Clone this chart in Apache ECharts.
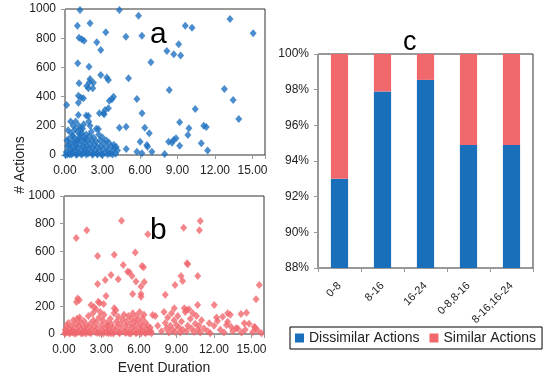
<!DOCTYPE html>
<html>
<head>
<meta charset="utf-8">
<script src="https://cdn.jsdelivr.net/npm/echarts@6/dist/echarts.min.js"></script>
<style>html,body{margin:0;padding:0;background:#fff}#c{width:550px;height:379px}</style>
</head>
<body>
<div id="c"></div>
<script>
// Panel a: Dissimilar actions (Event Duration, # Actions)
const pointsA = [
[1.2,993],[4.35,993],[5.88,953],[13.2,932],[0.99,886],[2.0,902],[3.26,840],[4.87,810],[6.15,817],[9.62,886],[10.16,872],[15.05,834],
[1.12,803],[1.34,792],[1.52,783],[2.54,772],[2.86,719],[8.15,712],[8.7,690],[9.09,758],[9.25,681],[6.87,635],[1.02,628],[1.92,605],
[2.86,548],[3.34,530],[3.47,514],[5.08,525],[2.0,521],[1.95,498],[1.12,491],[2.27,495],[2.22,457],[1.74,473],[1.87,457],[12.75,452],
[8.34,445],[5.75,384],[1.07,406],[1.28,392],[1.47,388],[1.07,358],[3.88,399],[3.75,381],[3.55,372],[13.45,377],[0.13,342],[6.16,286],
[10.42,315],[3.47,320],[3.21,308],[3.07,286],[2.75,286],[3.13,279],[1.07,274],[1.87,267],[13.9,247],[9.17,224],[4.35,187],[4.89,194],
[6.38,187],[11.1,201],[11.3,192],[9.91,183],[9.83,137],[2.67,178],[6.74,149],[6.01,91],[6.55,68],[6.6,57],[6.95,23],[5.75,23],[6.15,12],
[7.97,7],[8.29,91],[8.56,84],[8.69,103],[8.88,114],[9.17,64],[10.9,80],[11.41,30],[4.1,55],[4.9,41],[3.9,70],
[0.1,20],[0.2,60],[0.3,110],[0.35,5],[0.4,40],[0.5,150],[0.5,80],[0.6,10],[0.65,200],[0.7,55],[0.75,120],[0.8,30],[0.85,230],[0.9,90],
[0.95,5],[1.0,160],[1.0,45],[1.1,200],[1.1,15],[1.15,120],[1.2,70],[1.25,180],[1.3,30],[1.3,100],[1.35,150],[1.4,8],[1.45,60],[1.5,210],
[1.5,120],[1.55,40],[1.6,85],[1.65,20],[1.7,140],[1.7,270],[1.75,60],[1.8,100],[1.85,10],[1.9,230],[1.9,45],[1.95,130],[2.0,75],[2.05,20],
[2.1,160],[2.15,100],[2.2,50],[2.25,10],[2.3,120],[2.35,70],[2.4,30],[2.5,180],[2.5,90],[2.55,10],[2.6,55],[2.7,140],[2.75,25],[2.8,100],
[2.85,60],[2.9,5],[3.0,120],[3.05,40],[3.1,80],[3.2,15],[3.3,100],[3.35,55],[3.45,30],[3.5,85],[3.6,10],[3.7,60],[3.8,25],[3.95,50],
[4.05,8],[4.2,30],[0.15,100],[0.25,170],[0.45,230],[0.55,30],[0.7,90],[0.9,60],[1.05,100],[1.2,140],[1.4,180],[0.3,70],[0.6,130],
[0.8,175],[1.6,110],[2.0,200],[0.05,0],[0.2,5],[0.5,3],[0.9,2],[1.3,4],[1.7,3],[2.2,2],[2.6,4],[3.0,2],[3.4,5],[3.8,3]
];
// Panel b: Similar actions
const pointsB = [
[4.6,820],[10.9,818],[10.83,752],[9.57,770],[0.98,695],[1.82,752],[6.7,722],[2.69,565],[4.02,575],[5.7,590],[6.24,493],[6.36,483],
[9.84,512],[9.9,505],[4.74,500],[5.09,451],[5.22,450],[5.44,420],[3.76,428],[3.3,391],[4.34,396],[2.69,362],[10.7,420],[9.36,420],
[9.49,384],[5.76,380],[6.42,377],[6.16,345],[8.88,355],[15.62,355],[5.49,290],[6.16,290],[6.16,270],[8.1,285],[3.36,275],[15.36,251],
[1.09,258],[1.22,246],[1.0,232],[12.02,210],[10.69,210],[2.16,210],[2.4,195],[2.74,234],[2.85,225],[3.17,217],[4.02,186],[4.15,172],
[8.82,186],[9.62,186],[9.81,174],[13.09,150],[12.69,125],[14.16,145],[14.6,154],[7.09,138],[11.62,78],[12.28,94],[13.09,89],[13.36,53],
[13.76,41],[14.42,78],[15.22,53],
[0.05,5],[0.1,30],[0.2,60],[0.3,15],[0.35,80],[0.4,40],[0.5,10],[0.6,55],[0.7,25],[0.75,100],[0.8,5],[0.9,70],[1.0,35],[1.05,110],
[1.1,15],[1.2,60],[1.25,120],[1.3,85],[1.4,30],[1.5,5],[1.55,50],[1.6,95],[1.7,20],[1.8,65],[1.9,40],[1.95,130],[2.0,10],[2.1,75],
[2.2,30],[2.3,150],[2.35,100],[2.4,55],[2.5,15],[2.55,180],[2.6,85],[2.7,40],[2.8,120],[2.85,5],[2.9,160],[3.0,65],[3.05,25],[3.1,100],
[3.2,140],[3.3,45],[3.4,10],[3.45,80],[3.5,60],[3.6,30],[3.7,110],[3.75,5],[3.8,70],[3.9,40],[4.0,150],[4.1,20],[4.2,90],[4.25,55],
[4.35,125],[4.4,10],[4.5,75],[4.6,35],[4.7,105],[4.8,140],[4.85,15],[4.9,60],[5.0,90],[5.1,30],[5.15,130],[5.2,5],[5.3,70],[5.4,110],
[5.45,45],[5.5,150],[5.6,20],[5.65,90],[5.7,60],[5.8,130],[5.85,10],[5.9,100],[6.0,40],[6.05,160],[6.1,75],[6.2,25],[6.25,115],[6.3,55],
[6.4,140],[6.45,10],[6.5,85],[6.6,35],[6.7,60],[6.8,15],[6.9,45],[7.0,5],[7.3,130],[7.5,60],[7.8,20],[8.0,160],[8.1,80],[8.2,40],
[8.3,120],[8.4,10],[8.5,60],[8.6,150],[8.7,30],[8.8,100],[8.9,15],[9.0,65],[9.1,130],[9.2,45],[9.3,10],[9.4,90],[9.5,30],[9.7,160],
[9.8,20],[9.9,60],[10.0,180],[10.1,110],[10.2,40],[10.3,150],[10.4,15],[10.5,75],[10.6,130],[10.7,30],[10.8,60],[10.9,10],[11.0,100],
[11.2,40],[11.5,20],[11.7,5],[12.0,60],[12.2,120],[12.5,30],[12.8,10],[13.0,65],[13.3,140],[13.5,20],[13.9,40],[14.2,10],[14.5,30],
[14.8,75],[15.1,15],[15.3,45],[15.5,25],[15.8,5],[0.15,8],[0.45,3],[0.65,12],[0.95,4],[1.35,6],[1.75,3],[2.15,5],[2.65,8],[3.15,4],
[3.55,6],[3.95,3],[4.45,5],[4.95,8],[5.35,4],[5.75,6],[6.15,3],[6.55,5],[6.95,20]
];
// Panel c
const categories = ['0-8','8-16','16-24','0-8,8-16','8-16,16-24'];
const dissimilar = [93.0, 97.9, 98.55, 94.9, 94.9];
const similar = [7.0, 2.1, 1.45, 5.1, 5.1];
const yTicksScatter = [0, 200, 400, 600, 800, 1000];

const FONT = 'Liberation Sans';
const BLUE = '#1f72c0', PINK = '#f0686e';
const axisGray = '#999';

function scatterX(gi, showName) {
  return {
    type: 'value', gridIndex: gi, min: 0, max: 16, interval: 3,
    splitLine: {show: false},
    axisLine: {show: true, lineStyle: {color: axisGray}},
    axisTick: {show: true, length: 4, lineStyle: {color: axisGray}},
    axisLabel: {fontFamily: FONT, fontSize: 12, color: '#222', margin: 10,
      formatter: v => (v % 3 === 0 ? v.toFixed(2) : '')},
    name: showName ? 'Event Duration' : '', nameLocation: 'middle', nameGap: 27,
    nameTextStyle: {fontFamily: FONT, fontSize: 14, color: '#222'}
  };
}
function scatterY(gi) {
  return {
    type: 'value', gridIndex: gi, min: yTicksScatter[0], max: yTicksScatter[yTicksScatter.length-1], interval: 200,
    splitLine: {show: false},
    axisLine: {show: true, lineStyle: {color: axisGray}},
    axisTick: {show: true, length: 4, lineStyle: {color: axisGray}},
    axisLabel: {fontFamily: FONT, fontSize: 12, color: '#222', margin: 9, formatter: v => String(v)}
  };
}

const chart = echarts.init(document.getElementById('c'));
chart.setOption({
  animation: false,
  grid: [
    {left: 65, top: 9, width: 200, height: 146, show: true, borderColor: '#333', borderWidth: 1},
    {left: 64, top: 196, width: 200, height: 138, show: true, borderColor: '#333', borderWidth: 1},
    {left: 318, top: 54, width: 215, height: 214, show: true, borderColor: '#333', borderWidth: 1}
  ],
  xAxis: [
    scatterX(0, false),
    scatterX(1, true),
    {type: 'category', gridIndex: 2, data: categories,
     axisLine: {show: true, lineStyle: {color: axisGray}},
     axisTick: {show: true, length: 4, lineStyle: {color: axisGray}},
     axisLabel: {fontFamily: FONT, fontSize: 11, color: '#222', rotate: 45, margin: 16, interval: 0}}
  ],
  yAxis: [
    scatterY(0),
    scatterY(1),
    {type: 'value', gridIndex: 2, min: 88, max: 100, interval: 2,
     splitLine: {show: false},
     axisLine: {show: true, lineStyle: {color: axisGray}},
     axisTick: {show: true, length: 4, lineStyle: {color: axisGray}},
     axisLabel: {fontFamily: FONT, fontSize: 12, color: '#222', margin: 9, formatter: v => v + '%'}}
  ],
  legend: {
    left: 290, top: 327, width: 254,
    data: ['Dissimilar Actions', 'Similar Actions'],
    icon: 'rect', itemWidth: 9, itemHeight: 9, itemGap: 10,
    padding: [4, 6, 4, 5], borderColor: '#000', borderWidth: 1,
    textStyle: {fontFamily: FONT, fontSize: 14, color: '#222'}
  },
  series: [
    {type: 'scatter', xAxisIndex: 0, yAxisIndex: 0, data: pointsA, symbol: 'diamond', symbolSize: [7, 8],
     itemStyle: {color: BLUE}, silent: true},
    {type: 'scatter', xAxisIndex: 1, yAxisIndex: 1, data: pointsB, symbol: 'diamond', symbolSize: [7, 8],
     itemStyle: {color: PINK}, silent: true},
    {name: 'Dissimilar Actions', type: 'bar', xAxisIndex: 2, yAxisIndex: 2, stack: 's', data: dissimilar,
     barWidth: '40%', itemStyle: {color: '#1a6fba'}},
    {name: 'Similar Actions', type: 'bar', xAxisIndex: 2, yAxisIndex: 2, stack: 's', data: similar,
     barWidth: '40%', itemStyle: {color: '#f0686c'}}
  ],
  graphic: [
    {type: 'text', left: 150, top: 20, style: {text: 'a', fontFamily: FONT, fontSize: 30, fill: '#000'}},
    {type: 'text', left: 150, top: 216, style: {text: 'b', fontFamily: FONT, fontSize: 30, fill: '#000'}},
    {type: 'text', left: 403, top: 29, style: {text: 'c', fontFamily: FONT, fontSize: 27, fill: '#000'}},
    {type: 'text', x: 13, y: 165, rotation: Math.PI / 2,
     style: {text: '# Actions', fontFamily: FONT, fontSize: 14, fill: '#222', align: 'center', verticalAlign: 'top'}}
  ]
});
</script>
</body>
</html>
